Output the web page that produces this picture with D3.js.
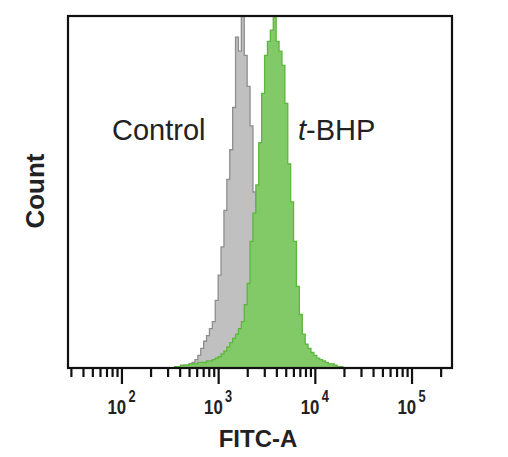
<!DOCTYPE html>
<html>
<head>
<meta charset="utf-8">
<script src="https://cdn.jsdelivr.net/npm/d3@7"></script>
<style>
  body { margin: 0; background: #fff; }
  svg { display: block; font-family: "Liberation Sans", Arial, sans-serif; }
</style>
</head>
<body>
<div id="chart"></div>
<script>
// histogram bins (log10 of FITC-A), left edge of first bin and bin width
const binLogStart = 2.55;
const binLogStep = 0.03;

// counts per bin
const controlCounts = [
  0, 1, 1, 2, 2, 3, 4, 6, 9, 14,
  19, 23, 28, 33, 48, 66, 86, 112, 134, 155,
  185, 235, 225, 250, 222, 200, 172, 125, 95, 65,
  40, 22, 10, 5, 2, 1, 0, 0, 0, 0,
  0, 0, 0, 0, 0, 0, 0, 0, 0, 0,
  0, 0, 0, 0, 0, 0, 0, 0, 0, 0
];
const tbhpCounts = [
  1, 1, 2, 2, 2, 3, 3, 3, 4, 4,
  4, 5, 5, 6, 7, 8, 10, 12, 15, 18,
  21, 24, 28, 33, 45, 60, 90, 110, 130, 160,
  195, 222, 232, 240, 250, 232, 225, 215, 188, 145,
  118, 90, 58, 38, 24, 17, 14, 11, 9, 7,
  6, 5, 4, 3, 3, 2, 1, 1, 0, 0
];

const majorTicks = [1e2, 1e3, 1e4, 1e5];
const minorTicks = [
  30, 40, 50, 60, 70, 80, 90,
  200, 300, 400, 500, 600, 700, 800, 900,
  2000, 3000, 4000, 5000, 6000, 7000, 8000, 9000,
  20000, 30000, 40000, 50000, 60000, 70000, 80000, 90000,
  200000
];

const svgWidth = 508;
const svgHeight = 457;
const marginLeft = 68;
const marginRight = 56;
const marginTop = 16;
const marginBottom = 89;

const xScale = d3.scaleLog()
  .domain([28, 262144])
  .range([marginLeft, svgWidth - marginRight]);

const yScale = d3.scaleLinear()
  .domain([0, 250])
  .range([svgHeight - marginBottom, marginTop]);

const svg = d3.select('#chart')
  .append('svg')
  .attr('width', svgWidth)
  .attr('height', svgHeight);

function toSteps(counts) {
  const pts = counts.map((c, i) => ({ x: Math.pow(10, binLogStart + i * binLogStep), c }));
  pts.push({ x: Math.pow(10, binLogStart + counts.length * binLogStep), c: 0 });
  return pts;
}

const area = d3.area()
  .curve(d3.curveStepAfter)
  .x((d) => xScale(d.x))
  .y0(yScale(0))
  .y1((d) => yScale(d.c));

// control (grey) under t-BHP (green)
svg.append('path')
  .datum(toSteps(controlCounts))
  .attr('d', area)
  .attr('fill', '#c0c0c0')
  .attr('stroke', '#8e8e8e')
  .attr('stroke-width', 1.3);

svg.append('path')
  .datum(toSteps(tbhpCounts))
  .attr('d', area)
  .attr('fill', '#82c968')
  .attr('stroke', '#5ab83a')
  .attr('stroke-width', 1.3);

// frame
svg.append('rect')
  .attr('x', marginLeft)
  .attr('y', marginTop)
  .attr('width', svgWidth - marginLeft - marginRight)
  .attr('height', svgHeight - marginTop - marginBottom)
  .attr('fill', 'none')
  .attr('stroke', '#111')
  .attr('stroke-width', 2.2);

// minor ticks
svg.append('g')
  .attr('transform', `translate(0,${yScale(0) + 1})`)
  .call(d3.axisBottom(xScale).tickValues(minorTicks).tickSize(8).tickFormat(''))
  .call((g) => g.select('.domain').remove())
  .call((g) => g.selectAll('.tick line').attr('stroke', '#111').attr('stroke-width', 2.2));

// major ticks
svg.append('g')
  .attr('transform', `translate(0,${yScale(0) + 1})`)
  .call(d3.axisBottom(xScale).tickValues(majorTicks).tickSize(15).tickFormat(''))
  .call((g) => g.select('.domain').remove())
  .call((g) => g.selectAll('.tick line').attr('stroke', '#111').attr('stroke-width', 2.2));

// tick labels 10^n
majorTicks.forEach((t) => {
  const lbl = svg.append('text')
    .attr('transform', `translate(${xScale(t)},414) scale(0.8,1)`)
    .attr('text-anchor', 'middle')
    .attr('font-size', 21)
    .attr('font-weight', 'bold')
    .attr('fill', '#222');
  lbl.append('tspan').text('10');
  lbl.append('tspan')
    .attr('dx', 3)
    .attr('dy', -12)
    .attr('font-size', 16)
    .text(Math.round(Math.log10(t)));
});

// axis titles
svg.append('text')
  .attr('x', 258)
  .attr('y', 447)
  .attr('text-anchor', 'middle')
  .attr('font-size', 24)
  .attr('font-weight', 'bold')
  .attr('fill', '#222')
  .text('FITC-A');

svg.append('text')
  .attr('transform', 'translate(44,191) rotate(-90)')
  .attr('text-anchor', 'middle')
  .attr('font-size', 26)
  .attr('font-weight', 'bold')
  .attr('fill', '#222')
  .text('Count');

// series labels
svg.append('text')
  .attr('x', 112)
  .attr('y', 140)
  .attr('font-size', 29)
  .attr('fill', '#222')
  .text('Control');

const tl = svg.append('text')
  .attr('x', 298)
  .attr('y', 140)
  .attr('font-size', 29)
  .attr('fill', '#222');
tl.append('tspan').attr('font-style', 'italic').text('t');
tl.append('tspan').text('-BHP');
</script>
</body>
</html>
